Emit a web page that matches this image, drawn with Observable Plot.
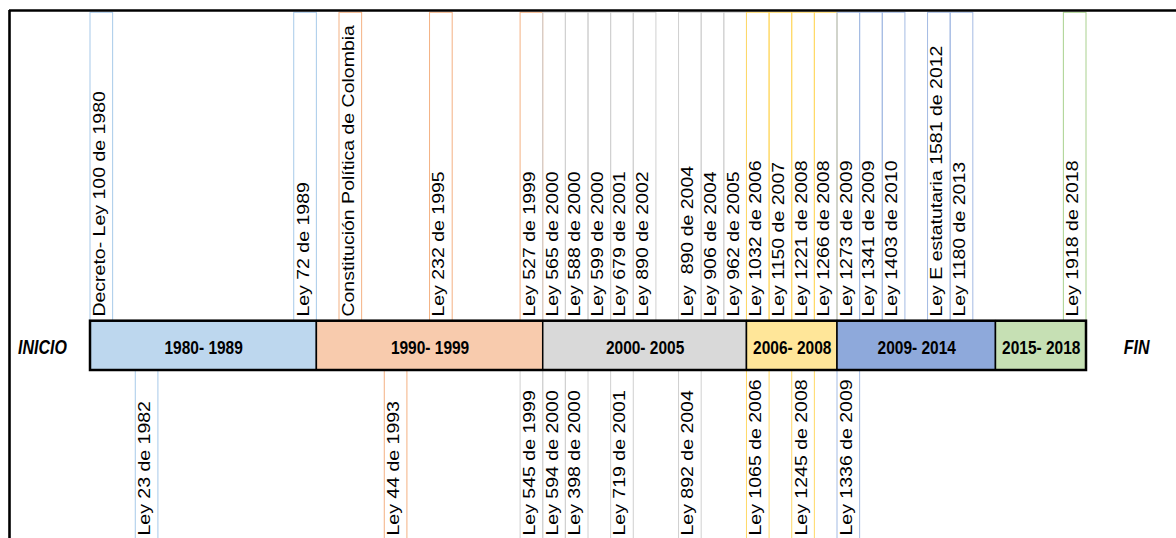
<!DOCTYPE html>
<html>
<head>
<meta charset="utf-8">
<script src="https://cdn.jsdelivr.net/npm/d3@7"></script>
<script src="https://cdn.jsdelivr.net/npm/@observablehq/plot@0.6"></script>
<style>
  body { margin: 0; background: #fff; }
  svg text { white-space: pre; }
</style>
</head>
<body>
<div id="chart"></div>
<script>
// ---- data ----
const periods = ["1980- 1989", "1990- 1999", "2000- 2005", "2006- 2008", "2009- 2014", "2015- 2018"];
const periodCells = [10, 10, 9, 4, 7, 4];   // timeline cells per period

const topLaws = [
  "Decreto- Ley 100 de 1980", "Ley 72 de 1989", "Constitución Política de Colombia",
  "Ley 232 de 1995", "Ley 527 de 1999", "Ley 565 de 2000", "Ley 588 de 2000",
  "Ley 599 de 2000", "Ley 679 de 2001", "Ley 890 de 2002", "Ley  890 de 2004",
  "Ley 906 de 2004", "Ley 962 de 2005", "Ley 1032 de 2006", "Ley 1150 de 2007",
  "Ley 1221 de 2008", "Ley 1266 de 2008", "Ley 1273 de 2009", "Ley 1341 de 2009",
  "Ley 1403 de 2010", "Ley E estatutaria 1581 de 2012", "Ley 1180 de 2013", "Ley 1918 de 2018"
];
const topCells   = [0, 9, 11, 15, 19, 20, 21, 22, 23, 24, 26, 27, 28, 29, 30, 31, 32, 33, 34, 35, 37, 38, 43];
const topPeriods = [0, 0, 1, 1, 1, 2, 2, 2, 2, 2, 2, 2, 2, 3, 3, 3, 3, 4, 4, 4, 4, 4, 5];

const bottomLaws = [
  "Ley 23 de 1982", "Ley 44 de 1993", "Ley 545 de 1999", "Ley 594 de 2000", "Ley 398 de 2000",
  "Ley 719 de 2001", "Ley 892 de 2004", "Ley 1065 de 2006", "Ley 1245 de 2008", "Ley 1336 de 2009"
];
const bottomCells   = [2, 13, 19, 20, 21, 23, 26, 29, 31, 33];
const bottomPeriods = [0, 1, 2, 2, 2, 2, 2, 3, 3, 4];

const startLabel = "INICIO";
const endLabel = "FIN";

// ---- styles ----
const fills   = ["#BDD7EE", "#F8CBAD", "#D9D9D9", "#FFE699", "#8EA9DB", "#C6E0B4"];
const strokes = ["#A8CAEA", "#F4B183", "#D0D0D0", "#FFD966", "#A4BBE3", "#A9D18E"];

// ---- derived tables ----
const starts = d3.cumsum([0, ...periodCells]);          // [0, 10, 20, ...]
const total = starts[starts.length - 1];
const bandData = periods.map((p, i) => ({label: p, x1: starts[i], x2: starts[i + 1], k: i}));
const topData = topLaws.map((t, i) => ({label: t, cell: topCells[i], k: topPeriods[i]}));
const bottomData = bottomLaws.map((t, i) => ({label: t, cell: bottomCells[i], k: bottomPeriods[i]}));

// ---- layout ----
const W = 1176, H = 538;
const mL = 9, mT = 10;
const bandLeft = 90, bandRight = 1086, bandTop = 320.7, bandBottom = 370;
const cellPx = (bandRight - bandLeft) / total;
const unitPx = bandBottom - bandTop;
const xDomain = [(mL - bandLeft) / cellPx, (W - bandLeft) / cellPx];
const yDomain = [(bandBottom - H) / unitPx, (bandBottom - mT) / unitPx];
const topBoxEdge = (bandBottom - 12.3) / unitPx;

const font = "'Liberation Sans', Arial, Helvetica, sans-serif";

const chart = Plot.plot({
  width: W, height: H,
  marginTop: mT, marginLeft: mL, marginRight: 0, marginBottom: 0,
  x: {domain: xDomain, axis: null},
  y: {domain: yDomain, axis: null},
  color: {type: "identity"},
  style: {fontFamily: font, background: "#fff", color: "#000"},
  marks: [
    // label boxes
    Plot.rect(topData, {x1: d => d.cell, x2: d => d.cell + 1, y1: 1, y2: topBoxEdge,
      fill: "none", stroke: d => strokes[d.k], strokeWidth: 1}),
    Plot.rect(bottomData, {x1: d => d.cell, x2: d => d.cell + 1, y1: 0, y2: yDomain[0] - 1,
      fill: "none", stroke: d => strokes[d.k], strokeWidth: 1}),
    // band
    Plot.rect(bandData, {x1: "x1", x2: "x2", y1: 0, y2: 1, fill: d => fills[d.k],
      stroke: "#000", strokeWidth: 1.5}),
    Plot.rect([total], {x1: 0, x2: d => d, y1: 0, y2: 1, fill: "none", stroke: "#000", strokeWidth: 2.5}),
    Plot.text(bandData, {x: d => (d.x1 + d.x2) / 2, y: 0.5, text: "label", fontWeight: "bold",
      fontSize: 15.5, dy: 2, fill: "#000"}),
    // start / end
    Plot.text([startLabel], {frameAnchor: "left", y: 0.5, text: d => d, textAnchor: "start", dx: 8.5, dy: 2,
      fontWeight: "bold", fontStyle: "italic", fontSize: 16, fill: "#000"}),
    Plot.text([endLabel], {frameAnchor: "right", y: 0.5, text: d => d, textAnchor: "end", dx: -27, dy: 2,
      fontWeight: "bold", fontStyle: "italic", fontSize: 16, fill: "#000"}),
    // law labels
    Plot.text(topData, {x: d => d.cell + 0.5, y: 1, text: "label", rotate: -90, textAnchor: "start",
      lineAnchor: "bottom", dx: 3, dy: -4.6, fontSize: 16, fill: "#000"}),
    Plot.text(bottomData, {x: d => d.cell + 0.5, frameAnchor: "bottom", text: "label", rotate: -90,
      textAnchor: "start", lineAnchor: "bottom", dx: 3, dy: -3, fontSize: 16, fill: "#000"}),
    // frame lines
    Plot.ruleY([yDomain[1]], {stroke: "#000", strokeWidth: 2.6}),
    Plot.ruleX([xDomain[0]], {stroke: "#000", strokeWidth: 2.6})
  ]
});

// the source picture is stretched vertically: stretch text glyphs the same way
d3.select(chart).selectAll("text").each(function () {
  const t = this.getAttribute("transform") || "";
  if (t.includes("rotate(")) this.setAttribute("transform", t.replace("rotate(", "scale(1,1.22) rotate("));
  else this.setAttribute("transform", t + " scale(1,1.22)");
});

document.getElementById("chart").appendChild(chart);
</script>
</body>
</html>
